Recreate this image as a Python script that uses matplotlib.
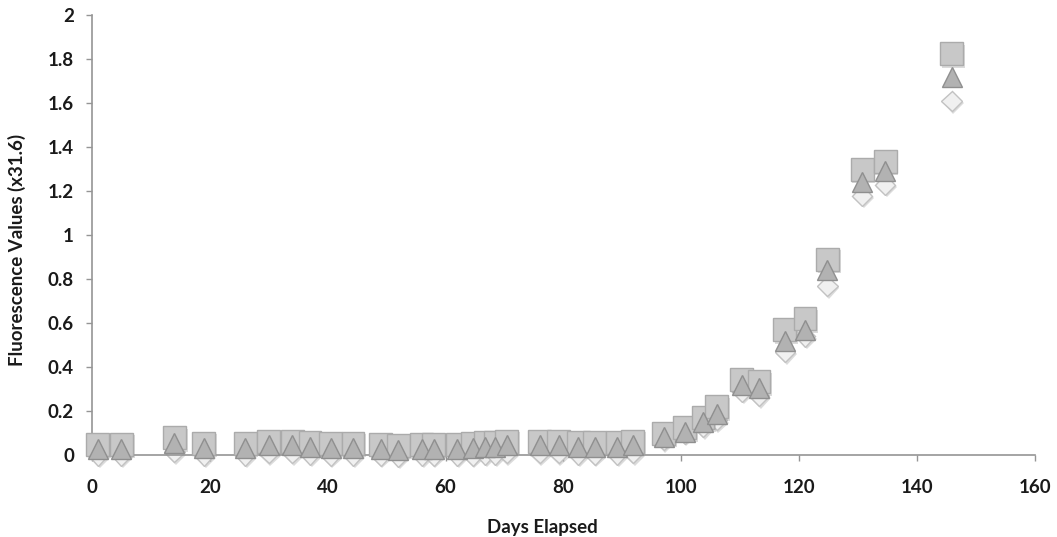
import matplotlib
matplotlib.use("Agg")
import matplotlib.pyplot as plt
import matplotlib.patheffects as pe

# sampling days and the three fluorescence readings
days = [1, 5, 14, 19, 26, 30, 34, 37, 40.5, 44.3, 49, 52, 56, 58, 62,
        64.6, 66.7, 68.4, 70.4, 76, 79.2, 82.5, 85.3, 89.1, 91.8,
        97, 100.6, 103.7, 106, 110.3, 113.2, 117.6, 121, 124.8, 130.7, 134.6, 145.9]

squares = [0.05, 0.05, 0.08, 0.055, 0.055, 0.065, 0.065, 0.06, 0.055, 0.055, 0.05, 0.045, 0.05, 0.05, 0.05,
           0.055, 0.06, 0.06, 0.065, 0.065, 0.065, 0.06, 0.06, 0.06, 0.065,
           0.10, 0.125, 0.17, 0.22, 0.345, 0.335, 0.57, 0.62, 0.89, 1.30, 1.335, 1.825]

triangles = [0.03, 0.03, 0.055, 0.035, 0.035, 0.045, 0.045, 0.04, 0.035, 0.035, 0.03, 0.025, 0.03, 0.03, 0.03,
             0.035, 0.04, 0.04, 0.045, 0.045, 0.045, 0.04, 0.04, 0.04, 0.045,
             0.085, 0.105, 0.15, 0.19, 0.32, 0.305, 0.52, 0.57, 0.84, 1.24, 1.29, 1.72]

diamonds = [0.0, 0.0, 0.015, 0.0, 0.0, 0.01, 0.01, 0.005, 0.0, 0.0, 0.0, -0.005, 0.0, 0.0, 0.0,
            0.0, 0.005, 0.005, 0.01, 0.01, 0.01, 0.005, 0.005, 0.005, 0.01,
            0.07, 0.10, 0.13, 0.16, 0.29, 0.27, 0.47, 0.54, 0.77, 1.18, 1.23, 1.61]

font = "Lato"
shadow = [pe.SimplePatchShadow(offset=(1.2, -1.8), shadow_rgbFace="#9a9a9a", alpha=0.35), pe.Normal()]

fig = plt.figure(figsize=(10.57, 5.37), dpi=100)
ax = fig.add_axes([0.087, 0.152, 0.892, 0.82])

ax.plot(days, diamonds, linestyle="none", marker="D", ms=10.5, mfc="#f0f0f0", mec="#c2c2c2",
        mew=1.0, zorder=2, path_effects=shadow, clip_on=False)
ax.plot(days, squares, linestyle="none", marker="s", ms=16.5, mfc="#c8c8c8", mec="#ababab",
        mew=1.0, zorder=3, path_effects=shadow, clip_on=False)
ax.plot(days, triangles, linestyle="none", marker="^", ms=14.5, mfc="#b2b2b2", mec="#8f8f8f",
        mew=1.0, zorder=4, clip_on=False)

ax.set_xlim(0, 160)
ax.set_ylim(0, 2)
ax.set_xticks(range(0, 161, 20))
ax.set_yticks([0, 0.2, 0.4, 0.6, 0.8, 1, 1.2, 1.4, 1.6, 1.8, 2])
ax.set_yticklabels(["0", "0.2", "0.4", "0.6", "0.8", "1", "1.2", "1.4", "1.6", "1.8", "2"])

for side in ["top", "right"]:
    ax.spines[side].set_visible(False)
for side in ["left", "bottom"]:
    ax.spines[side].set_color("#959595")
    ax.spines[side].set_linewidth(1.2)

ax.tick_params(axis="both", direction="out", length=4, width=1, color="#959595",
               labelsize=13.5, labelcolor="#1a1a1a")
ax.tick_params(axis="x", pad=13)
ax.tick_params(axis="y", pad=9)
for lab in ax.get_xticklabels() + ax.get_yticklabels():
    lab.set_fontfamily(font)
    lab.set_fontweight("bold")

ax.set_xlabel("Days Elapsed", fontfamily=font, fontweight="bold", fontsize=13.5, color="#1a1a1a")
ax.set_ylabel("Fluorescence Values (x31.6)", fontfamily=font, fontweight="bold", fontsize=13.5, color="#1a1a1a")
ax.xaxis.set_label_coords(0.478, -0.145)
ax.yaxis.set_label_coords(-0.07, 0.467)

fig.savefig("out.png", dpi=100)
